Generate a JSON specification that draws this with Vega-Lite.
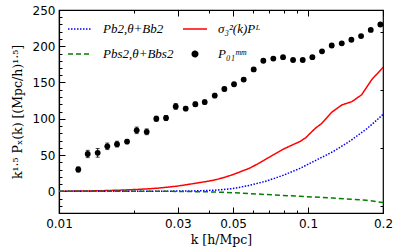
{
  "$schema": "https://vega.github.io/schema/vega-lite/v6.json",
  "width": 324,
  "height": 203,
  "autosize": "none",
  "padding": {"left": 59, "top": 10, "right": 16, "bottom": 38},
  "background": "white",
  "config": {
    "view": {"stroke": "black", "strokeWidth": 1.2},
    "axis": {
      "domainColor": "black",
      "domainWidth": 1.2,
      "tickColor": "black",
      "tickWidth": 1,
      "labelFont": "DejaVu Sans",
      "labelFontSize": 12,
      "labelColor": "black",
      "titleFont": "DejaVu Serif",
      "titleFontWeight": "normal",
      "titleFontSize": 12.5,
      "titleColor": "black",
      "grid": false
    },
    "legend": {
      "orient": "none",
      "legendX": 8,
      "legendY": 6,
      "columns": 2,
      "labelFont": "Liberation Serif",
      "labelFontStyle": "italic",
      "labelFontSize": 13,
      "labelColor": "black",
      "symbolSize": 576,
      "symbolStrokeWidth": 1.5,
      "rowPadding": 5,
      "columnPadding": 6,
      "labelOffset": 10
    }
  },
  "datasets": {
    "lines": [
      {"k": 0.01, "y": 0, "series": "sigma"},
      {"k": 0.0125, "y": 0.3, "series": "sigma"},
      {"k": 0.015, "y": 0.8, "series": "sigma"},
      {"k": 0.0175, "y": 1.5, "series": "sigma"},
      {"k": 0.02, "y": 2.3, "series": "sigma"},
      {"k": 0.0225, "y": 3.2, "series": "sigma"},
      {"k": 0.025, "y": 4.3, "series": "sigma"},
      {"k": 0.0275, "y": 5.7, "series": "sigma"},
      {"k": 0.03, "y": 7.2, "series": "sigma"},
      {"k": 0.0325, "y": 9, "series": "sigma"},
      {"k": 0.035, "y": 10.8, "series": "sigma"},
      {"k": 0.0368, "y": 12, "series": "sigma"},
      {"k": 0.04, "y": 14, "series": "sigma"},
      {"k": 0.043, "y": 16.2, "series": "sigma"},
      {"k": 0.046, "y": 19, "series": "sigma"},
      {"k": 0.05, "y": 23, "series": "sigma"},
      {"k": 0.054, "y": 27.5, "series": "sigma"},
      {"k": 0.0584, "y": 32, "series": "sigma"},
      {"k": 0.063, "y": 38, "series": "sigma"},
      {"k": 0.0682, "y": 45, "series": "sigma"},
      {"k": 0.074, "y": 52, "series": "sigma"},
      {"k": 0.0795, "y": 58, "series": "sigma"},
      {"k": 0.086, "y": 63.5, "series": "sigma"},
      {"k": 0.0927, "y": 68.5, "series": "sigma"},
      {"k": 0.098, "y": 74, "series": "sigma"},
      {"k": 0.1034, "y": 82, "series": "sigma"},
      {"k": 0.108, "y": 88, "series": "sigma"},
      {"k": 0.113, "y": 93, "series": "sigma"},
      {"k": 0.1245, "y": 109, "series": "sigma"},
      {"k": 0.1366, "y": 119, "series": "sigma"},
      {"k": 0.15, "y": 123.6, "series": "sigma"},
      {"k": 0.1641, "y": 133, "series": "sigma"},
      {"k": 0.1803, "y": 154, "series": "sigma"},
      {"k": 0.1978, "y": 169, "series": "sigma"},
      {"k": 0.2, "y": 171, "series": "sigma"},
      {"k": 0.01, "y": 0, "series": "b2"},
      {"k": 0.02, "y": 0, "series": "b2"},
      {"k": 0.03, "y": 0.2, "series": "b2"},
      {"k": 0.0368, "y": 0.6, "series": "b2"},
      {"k": 0.043, "y": 1.6, "series": "b2"},
      {"k": 0.05, "y": 3.7, "series": "b2"},
      {"k": 0.058, "y": 8, "series": "b2"},
      {"k": 0.068, "y": 14, "series": "b2"},
      {"k": 0.0795, "y": 22, "series": "b2"},
      {"k": 0.0927, "y": 31.5, "series": "b2"},
      {"k": 0.108, "y": 43, "series": "b2"},
      {"k": 0.126, "y": 54.6, "series": "b2"},
      {"k": 0.147, "y": 69, "series": "b2"},
      {"k": 0.172, "y": 86, "series": "b2"},
      {"k": 0.19, "y": 99, "series": "b2"},
      {"k": 0.2, "y": 106, "series": "b2"},
      {"k": 0.01, "y": 0, "series": "bs2"},
      {"k": 0.02, "y": 0, "series": "bs2"},
      {"k": 0.03, "y": -0.2, "series": "bs2"},
      {"k": 0.04, "y": -0.8, "series": "bs2"},
      {"k": 0.05, "y": -2, "series": "bs2"},
      {"k": 0.068, "y": -4.5, "series": "bs2"},
      {"k": 0.0927, "y": -7, "series": "bs2"},
      {"k": 0.126, "y": -9.3, "series": "bs2"},
      {"k": 0.172, "y": -12.5, "series": "bs2"},
      {"k": 0.2, "y": -15.5, "series": "bs2"}
    ],
    "pts": [
      {"k": 0.01195, "y": 30, "err": 3.5},
      {"k": 0.01304, "y": 51.4, "err": 5},
      {"k": 0.0143, "y": 53, "err": 6},
      {"k": 0.01563, "y": 62, "err": 4.5},
      {"k": 0.0171, "y": 65, "err": 4},
      {"k": 0.01876, "y": 68.5, "err": 3},
      {"k": 0.02051, "y": 84, "err": 4.5},
      {"k": 0.0225, "y": 82, "err": 4},
      {"k": 0.02459, "y": 100, "err": 3.5},
      {"k": 0.0269, "y": 101, "err": 3.5},
      {"k": 0.02942, "y": 117, "err": 4},
      {"k": 0.03227, "y": 114, "err": 3},
      {"k": 0.03527, "y": 120, "err": 3},
      {"k": 0.03847, "y": 123, "err": 3},
      {"k": 0.04221, "y": 132, "err": 3},
      {"k": 0.04613, "y": 141, "err": 2.5},
      {"k": 0.05045, "y": 147.6, "err": 2.5},
      {"k": 0.05517, "y": 154, "err": 2.5},
      {"k": 0.06051, "y": 168, "err": 2.5},
      {"k": 0.06615, "y": 180, "err": 2},
      {"k": 0.07255, "y": 183, "err": 2},
      {"k": 0.07937, "y": 185, "err": 2},
      {"k": 0.08707, "y": 181, "err": 2},
      {"k": 0.09522, "y": 181, "err": 2},
      {"k": 0.1041, "y": 185, "err": 2},
      {"k": 0.1138, "y": 193, "err": 2},
      {"k": 0.1245, "y": 201, "err": 2},
      {"k": 0.1366, "y": 204, "err": 2},
      {"k": 0.1493, "y": 209, "err": 2},
      {"k": 0.1633, "y": 214, "err": 2},
      {"k": 0.1786, "y": 222.5, "err": 2},
      {"k": 0.1952, "y": 230, "err": 2}
    ]
  },
  "layer": [
    {
      "data": {"name": "lines"},
      "mark": {"type": "line", "strokeWidth": 1.5, "clip": true},
      "encoding": {
        "x": {
          "field": "k", "type": "quantitative",
          "scale": {"type": "log", "domain": [0.01, 0.2], "nice": false},
          "axis": {
            "orient": "bottom",
            "title": "k [h/Mpc]",
            "titlePadding": 4,
            "values": [0.01, 0.02, 0.03, 0.04, 0.05, 0.06, 0.07, 0.08, 0.09, 0.1, 0.2],
            "labelExpr": "indexof([0.01,0.03,0.05,0.1,0.2], datum.value) >= 0 ? datum.value + '' : ''",
            "tickSize": {"condition": {"test": "indexof([0.01,0.03,0.05,0.1,0.2], datum.value) >= 0", "value": -6}, "value": -3},
            "labelPadding": 11,
            "labelFlush": false
          }
        },
        "y": {
          "field": "y", "type": "quantitative",
          "scale": {"domain": [-30, 250], "nice": false, "zero": false},
          "axis": {
            "orient": "left",
            "title": "k¹·⁵ Pₓ(k) [(Mpc/h)¹·⁵]",
            "titlePadding": 8,
            "values": [-20, -10, 0, 10, 20, 30, 40, 50, 60, 70, 80, 90, 100, 110, 120, 130, 140, 150, 160, 170, 180, 190, 200, 210, 220, 230, 240, 250],
            "labelExpr": "datum.value % 50 === 0 ? datum.value + '' : ''",
            "tickSize": {"condition": {"test": "datum.value % 50 === 0", "value": -6}, "value": -3},
            "labelPadding": 10
          }
        },
        "color": {
          "field": "series", "type": "nominal",
          "scale": {"domain": ["b2", "bs2", "sigma", "P01"], "range": ["#0000ff", "#008000", "#ff0000", "#000000"]},
          "legend": {
            "title": null,
            "labelExpr": "datum.value === 'b2' ? 'Pb2,θ+Bb2' : datum.value === 'bs2' ? 'Pbs2,θ+Bbs2' : datum.value === 'sigma' ? 'σ₃²(k)Pᴸ' : 'P₀₁ᵐᵐ'",
            "encode": {
              "symbols": {
                "update": {
                  "shape": {"signal": "datum.value === 'P01' ? 'circle' : 'stroke'"},
                  "size": {"signal": "datum.value === 'P01' ? 30 : 576"},
                  "fill": {"signal": "datum.value === 'P01' ? 'black' : 'transparent'"},
                  "stroke": {"signal": "datum.value === 'b2' ? '#0000ff' : datum.value === 'bs2' ? '#008000' : datum.value === 'sigma' ? '#ff0000' : 'black'"},
                  "strokeDash": {"signal": "datum.value === 'b2' ? [1.5, 1.5] : datum.value === 'bs2' ? [5, 3] : [1, 0]"},
                  "strokeWidth": {"value": 1.5},
                  "opacity": {"value": 1}
                }
              }
            }
          }
        },
        "strokeDash": {
          "field": "series", "type": "nominal",
          "scale": {"domain": ["b2", "bs2", "sigma"], "range": [[1.5, 1.5], [5, 3], [1, 0]]},
          "legend": null
        }
      }
    },
    {
      "data": {"name": "pts"},
      "encoding": {
        "x": {
          "field": "k", "type": "quantitative",
          "axis": {
            "orient": "top",
            "title": null,
            "labels": false,
            "domain": false,
            "values": [0.01, 0.02, 0.03, 0.04, 0.05, 0.06, 0.07, 0.08, 0.09, 0.1, 0.2],
            "tickSize": {"condition": {"test": "indexof([0.01,0.03,0.05,0.1,0.2], datum.value) >= 0", "value": -6}, "value": -3}
          }
        },
        "color": {"datum": "P01"}
      },
      "layer": [
        {
          "mark": {"type": "errorbar", "ticks": {"size": 4}, "thickness": 1},
          "encoding": {
            "y": {
              "field": "y", "type": "quantitative",
              "axis": {
                "orient": "right",
                "title": null,
                "labels": false,
                "domain": false,
                "values": [-20, -10, 0, 10, 20, 30, 40, 50, 60, 70, 80, 90, 100, 110, 120, 130, 140, 150, 160, 170, 180, 190, 200, 210, 220, 230, 240, 250],
                "tickSize": {"condition": {"test": "datum.value % 50 === 0", "value": -6}, "value": -3}
              }
            },
            "yError": {"field": "err"}
          }
        },
        {
          "mark": {"type": "point", "filled": true, "size": 34, "opacity": 1},
          "encoding": {
            "y": {"field": "y", "type": "quantitative"}
          }
        }
      ]
    }
  ],
  "resolve": {"axis": {"x": "independent", "y": "independent"}}
}
